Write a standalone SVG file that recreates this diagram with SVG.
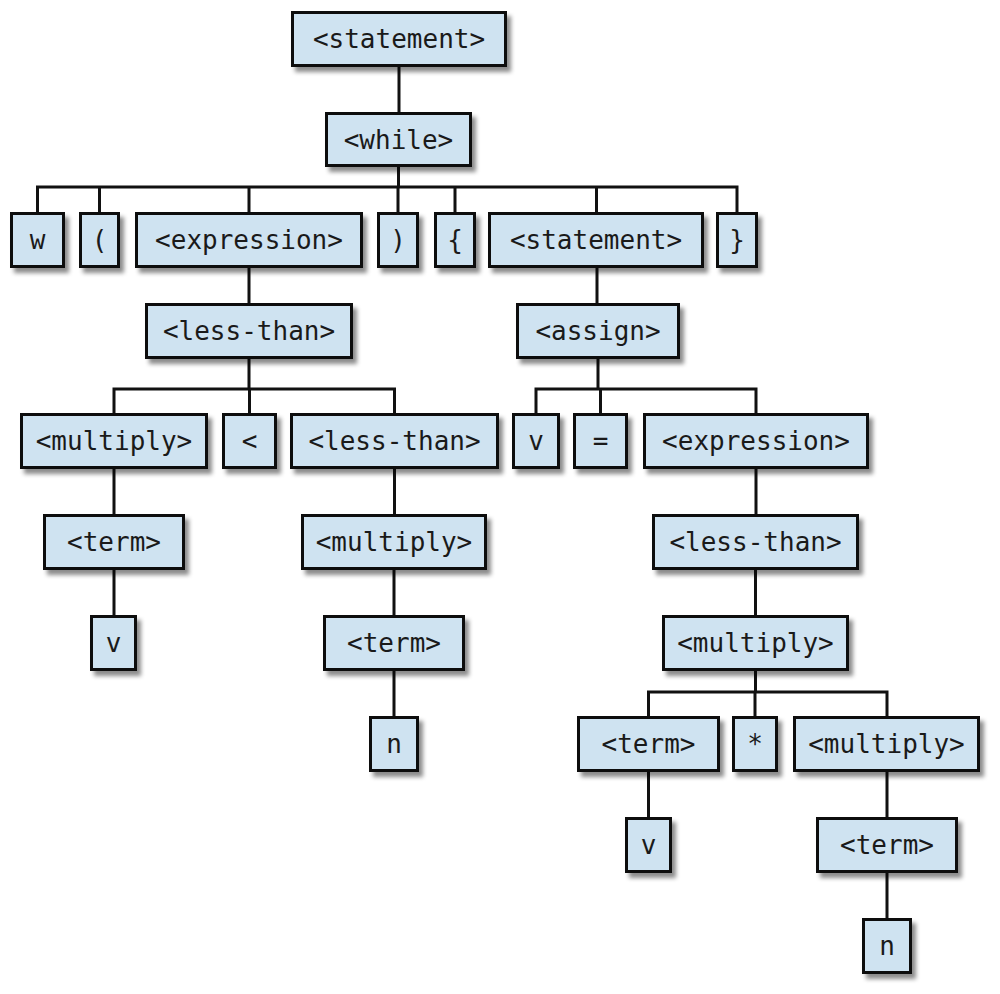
<svg xmlns="http://www.w3.org/2000/svg" width="1000" height="994" viewBox="0 0 1000 994">
<style>
.box{fill:#cfe3f1;stroke:#111;stroke-width:3;filter:url(#sh)}
.lbl{font-family:"DejaVu Sans Mono","Liberation Mono",monospace;font-size:26px;fill:#1a1a1a;text-anchor:middle}
.ln{stroke:#111;stroke-width:3;fill:none}
</style>
<defs>
<filter id="sh" x="-20%" y="-20%" width="150%" height="160%">
<feDropShadow dx="4" dy="5" stdDeviation="2.2" flood-color="#000" flood-opacity="0.45"/>
</filter>
</defs>
<rect width="1000" height="994" fill="#fff"/>
<g id="connectors">
<path class="ln" d="M399 67V112"/>
<path class="ln" d="M398.5 167V187M37.5 212V187H737V212M99.5 187V212M249 187V212M398 187V212M455 187V212M596.5 187V212"/>
<path class="ln" d="M249 268V303M597 268V303"/>
<path class="ln" d="M249 359V389M114 413V389H394.5V413M249.5 389V413"/>
<path class="ln" d="M598 359V389M536 413V389H756V413M600.5 389V413"/>
<path class="ln" d="M114 469V514M114 570V615"/>
<path class="ln" d="M394.5 469V514M394 570V615M394 671V716"/>
<path class="ln" d="M756 469V514M755.5 570V615"/>
<path class="ln" d="M755.5 671V692M648.5 716V692H887V716M755 692V716"/>
<path class="ln" d="M648.5 772V817M887 772V817M887 873V918"/>
</g>
<g id="n1"><rect class="box" x="292.5" y="12.5" width="213" height="53"/><text class="lbl" x="399" y="48">&lt;statement&gt;</text></g>
<g id="n2"><rect class="box" x="326.5" y="113.5" width="144" height="52"/><text class="lbl" x="398.5" y="149">&lt;while&gt;</text></g>
<g id="n3"><rect class="box" x="11.5" y="213.5" width="52" height="53"/><text class="lbl" x="37.5" y="249">w</text></g>
<g id="n4"><rect class="box" x="80.5" y="213.5" width="38" height="53"/><text class="lbl" x="99.5" y="249">(</text></g>
<g id="n5"><rect class="box" x="136.5" y="213.5" width="225" height="53"/><text class="lbl" x="249" y="249">&lt;expression&gt;</text></g>
<g id="n6"><rect class="box" x="378.5" y="213.5" width="39" height="53"/><text class="lbl" x="398" y="249">)</text></g>
<g id="n7"><rect class="box" x="435.5" y="213.5" width="39" height="53"/><text class="lbl" x="455" y="249">{</text></g>
<g id="n8"><rect class="box" x="489.5" y="213.5" width="213" height="53"/><text class="lbl" x="596" y="249">&lt;statement&gt;</text></g>
<g id="n9"><rect class="box" x="717.5" y="213.5" width="39" height="53"/><text class="lbl" x="737" y="249">}</text></g>
<g id="n10"><rect class="box" x="146.5" y="304.5" width="205" height="53"/><text class="lbl" x="249" y="340">&lt;less-than&gt;</text></g>
<g id="n11"><rect class="box" x="517.5" y="304.5" width="161" height="53"/><text class="lbl" x="598" y="340">&lt;assign&gt;</text></g>
<g id="n12"><rect class="box" x="21.5" y="414.5" width="185" height="53"/><text class="lbl" x="114" y="450">&lt;multiply&gt;</text></g>
<g id="n13"><rect class="box" x="223.5" y="414.5" width="52" height="53"/><text class="lbl" x="249.5" y="450">&lt;</text></g>
<g id="n14"><rect class="box" x="291.5" y="414.5" width="206" height="53"/><text class="lbl" x="394.5" y="450">&lt;less-than&gt;</text></g>
<g id="n15"><rect class="box" x="513.5" y="414.5" width="45" height="53"/><text class="lbl" x="536" y="450">v</text></g>
<g id="n16"><rect class="box" x="574.5" y="414.5" width="52" height="53"/><text class="lbl" x="600.5" y="450">=</text></g>
<g id="n17"><rect class="box" x="644.5" y="414.5" width="223" height="53"/><text class="lbl" x="756" y="450">&lt;expression&gt;</text></g>
<g id="n18"><rect class="box" x="44.5" y="515.5" width="139" height="53"/><text class="lbl" x="114" y="551">&lt;term&gt;</text></g>
<g id="n19"><rect class="box" x="302.5" y="515.5" width="183" height="53"/><text class="lbl" x="394" y="551">&lt;multiply&gt;</text></g>
<g id="n20"><rect class="box" x="653.5" y="515.5" width="204" height="53"/><text class="lbl" x="755.5" y="551">&lt;less-than&gt;</text></g>
<g id="n21"><rect class="box" x="91.5" y="616.5" width="44" height="53"/><text class="lbl" x="113.5" y="652">v</text></g>
<g id="n22"><rect class="box" x="324.5" y="616.5" width="139" height="53"/><text class="lbl" x="394" y="652">&lt;term&gt;</text></g>
<g id="n23"><rect class="box" x="663.5" y="616.5" width="184" height="53"/><text class="lbl" x="755.5" y="652">&lt;multiply&gt;</text></g>
<g id="n24"><rect class="box" x="370.5" y="717.5" width="47" height="53"/><text class="lbl" x="394" y="753">n</text></g>
<g id="n25"><rect class="box" x="578.5" y="717.5" width="140" height="53"/><text class="lbl" x="648.5" y="753">&lt;term&gt;</text></g>
<g id="n26"><rect class="box" x="733.5" y="717.5" width="43" height="53"/><text class="lbl" x="755" y="753">*</text></g>
<g id="n27"><rect class="box" x="794.5" y="717.5" width="184" height="53"/><text class="lbl" x="886.5" y="753">&lt;multiply&gt;</text></g>
<g id="n28"><rect class="box" x="626.5" y="818.5" width="44" height="53"/><text class="lbl" x="648.5" y="854">v</text></g>
<g id="n29"><rect class="box" x="817.5" y="818.5" width="139" height="53"/><text class="lbl" x="887" y="854">&lt;term&gt;</text></g>
<g id="n30"><rect class="box" x="863.5" y="919.5" width="47" height="53"/><text class="lbl" x="887" y="955">n</text></g>
</svg>
